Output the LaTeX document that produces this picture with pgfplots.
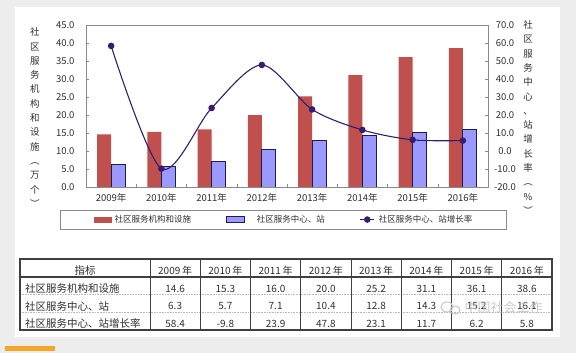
\documentclass[border=0pt]{standalone}
\usepackage{fontspec}
\setmainfont{Noto Sans CJK SC}
\usepackage{pgfplots}
\pgfplotsset{compat=1.18}
\definecolor{bggray}{HTML}{EDEDED}
\definecolor{orangebar}{HTML}{F4A62A}
\definecolor{redbar}{HTML}{C0504D}
\definecolor{bluebar}{HTML}{9999FF}
\definecolor{blueedge}{HTML}{1E1B4E}
\definecolor{linecol}{HTML}{2C2270}
\definecolor{markcol}{HTML}{3A1C6E}
\definecolor{axisgray}{HTML}{8A8A8A}
\definecolor{tline}{HTML}{404040}
\definecolor{txt}{HTML}{303030}
\newcommand\tickfont{\fontsize{9.5bp}{11bp}\selectfont}
\newcommand\tfont{\fontsize{10bp}{12bp}\selectfont}
\newcommand\rfont{\fontsize{10.5bp}{12bp}\selectfont}
\begin{document}
\begin{tikzpicture}
\begin{scope}[x=1bp,y=1bp]
\useasboundingbox (0,0) rectangle (576,353);
\fill[bggray] (0,0) rectangle (576,353);
\fill[white] (15,16) rectangle (560,346);
\fill[orangebar] (5,2) rectangle (55,7);
\end{scope}

\begin{axis}[
  at={(86bp,166bp)}, anchor=south west, scale only axis,
  width=402bp, height=162bp,
  xmin=0.5, xmax=8.5, ymin=0, ymax=45,
  xtick={1,...,8},
  xticklabels={2009年,2010年,2011年,2012年,2013年,2014年,2015年,2016年},
  ytick={0,5,...,45},
  ytick pos=left, tick align=inside, major tick length=3bp,
  x tick style={draw=none}, y tick style={draw=axisgray},
  axis line style={draw=axisgray, line width=0.8bp},
  ticklabel style={font=\tickfont, text=txt},
  yticklabel style={xshift=-8bp},
  xticklabel style={yshift=-2.5bp},
  /pgf/number format/.cd, fixed, fixed zerofill, precision=1, assume math mode=true,
  /pgfplots/.cd,
  ylabel={社\\区\\服\\务\\机\\构\\和\\设\\施\\︵\\万\\个\\︶},
  ylabel style={rotate=-90, align=center, anchor=center, at={(rel axis cs:-0.1269,0.429)},
    font=\fontsize{9.5bp}{14.3bp}\selectfont, text=txt},
]
\addplot[ybar, bar width=14bp, bar shift=-7bp, fill=redbar, draw=none]
  coordinates {(1,14.6) (2,15.3) (3,16.0) (4,20.0) (5,25.2) (6,31.1) (7,36.1) (8,38.6)};
\addplot[ybar, bar width=14bp, bar shift=7bp, fill=bluebar, draw=blueedge, line width=1bp]
  coordinates {(1,6.3) (2,5.7) (3,7.1) (4,10.4) (5,12.8) (6,14.3) (7,15.2) (8,16.1)};
\end{axis}

\begin{axis}[
  at={(86bp,166bp)}, anchor=south west, scale only axis,
  width=402bp, height=162bp,
  xmin=0.5, xmax=8.5, ymin=-20, ymax=70,
  axis y line*=right, axis x line*=bottom,
  xtick={1.5,2.5,...,7.5}, xticklabels={},
  ytick={-20,-10,...,70},
  tick align=inside, major tick length=3bp,
  tick style={draw=axisgray},
  axis line style={draw=axisgray, line width=0.8bp, -},
  ticklabel style={font=\tickfont, text=txt},
  yticklabel style={anchor=center, xshift=17bp},
  /pgf/number format/.cd, fixed, fixed zerofill, precision=1, assume math mode=true,
  /pgfplots/.cd,
  ylabel={社\\区\\服\\务\\中\\心\\、\\站\\增\\长\\率\\︵\\\%\\︶},
  ylabel style={rotate=-90, align=center, anchor=center, at={(rel axis cs:1.0995,0.429)},
    font=\fontsize{9.5bp}{14.3bp}\selectfont, text=txt},
  legend columns=3,
  legend style={at={(-0.0647,-0.142)}, anchor=north west, draw=axisgray, fill=white,
    inner xsep=34bp, inner ysep=3bp, font=\fontsize{8.5bp}{10bp}\selectfont, text=txt,
    /tikz/every even column/.append style={column sep=35bp},
    nodes={inner xsep=0bp, inner ysep=2bp}},
  legend cell align=left,
]
\addlegendimage{legend image code/.code={\fill[redbar] (0bp,-2.5bp) rectangle (17bp,2.5bp); \path (20bp,0bp);}}
\addlegendentry{社区服务机构和设施}
\addlegendimage{legend image code/.code={\draw[fill=bluebar, draw=blueedge, line width=1bp] (0bp,-3bp) rectangle (18bp,3bp); \path (30bp,0bp);}}
\addlegendentry{社区服务中心、站}
\addplot[linecol, line width=1.1bp, smooth, tension=0.5, mark=*, mark size=2.7bp,
  mark options={fill=markcol, draw=markcol},
  legend image code/.code={\draw[linecol, line width=1bp] (0bp,0bp) -- (14bp,0bp); \fill[markcol] (7bp,0bp) circle (2.7bp); \path (18bp,0bp);}]
  coordinates {(1,58.4) (2,-9.8) (3,23.9) (4,47.8) (5,23.1) (6,11.7) (7,6.2) (8,5.8)};
\addlegendentry{社区服务中心、站增长率}
\end{axis}

\begin{scope}[x=1bp,y=1bp]
\draw[gray!55, densely dotted, line width=0.6] (20,58.3) -- (552,58.3) (20,40.7) -- (552,40.7);
\foreach \i in {0,...,7} \draw[tline, line width=0.8] ({150+50.25*\i},23) -- ({150+50.25*\i},94);
\draw[tline, line width=1.1] (20,76) -- (552,76);
\draw[tline, line width=1.3] (20,23) rectangle (552,94);
\node[font=\rfont, text=txt] at (85,82.5) {指标};
\foreach \y [count=\i] in {2009,2010,2011,2012,2013,2014,2015,2016}
  \node[font=\tfont, text=txt] at ({150+50.25*(\i-0.5)},82.5) {\y\,年};
\node[font=\rfont, text=txt, anchor=west, inner xsep=0] at (25,64.5) {社区服务机构和设施};
\node[font=\rfont, text=txt, anchor=west, inner xsep=0] at (25,47) {社区服务中心、站};
\node[font=\rfont, text=txt, anchor=west, inner xsep=0] at (25,29.5) {社区服务中心、站增长率};
\foreach \v [count=\i] in {14.6,15.3,16.0,20.0,25.2,31.1,36.1,38.6}
  \node[font=\tfont, text=txt] at ({150+50.25*(\i-0.5)},64.5) {\v};
\foreach \v [count=\i] in {6.3,5.7,7.1,10.4,12.8,14.3,15.2,16.1}
  \node[font=\tfont, text=txt] at ({150+50.25*(\i-0.5)},47) {\v};
\foreach \v [count=\i] in {58.4,-9.8,23.9,47.8,23.1,11.7,6.2,5.8}
  \node[font=\tfont, text=txt] at ({150+50.25*(\i-0.5)},29.5) {\v};
% watermark
\draw[gray!45, line width=1] (447,46) ellipse (6 and 5);
\draw[gray!45, line width=1] (455,43) ellipse (5 and 4);
\node[font=\fontsize{13bp}{14bp}\selectfont, text=gray!50, opacity=0.8, anchor=west] at (461,45) {中国社会工作};
\end{scope}
\end{tikzpicture}
\end{document}
